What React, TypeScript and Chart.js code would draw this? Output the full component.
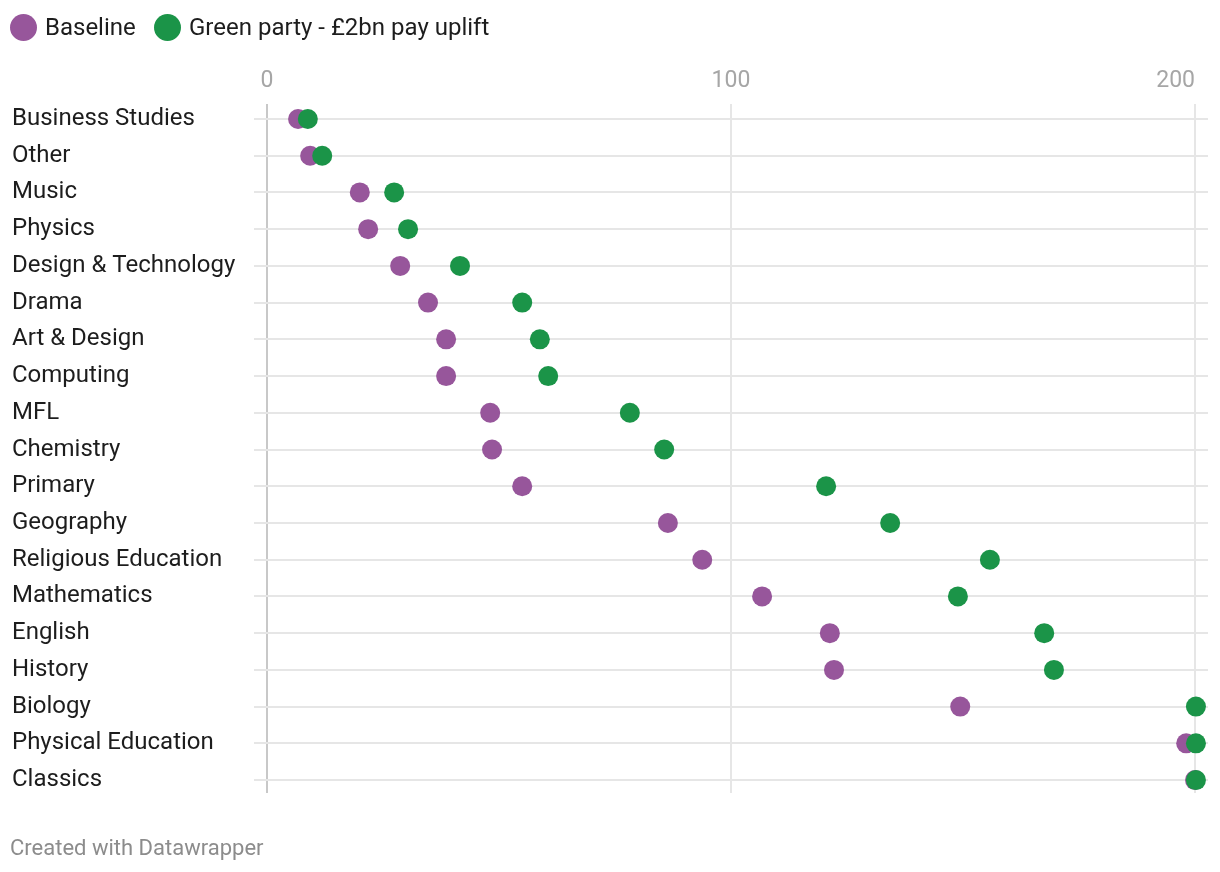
import React, { useEffect, useRef } from "react";
import { Chart, registerables } from "chart.js";

Chart.register(...registerables);

const categories: string[] = [
  "Business Studies",
  "Other",
  "Music",
  "Physics",
  "Design & Technology",
  "Drama",
  "Art & Design",
  "Computing",
  "MFL",
  "Chemistry",
  "Primary",
  "Geography",
  "Religious Education",
  "Mathematics",
  "English",
  "History",
  "Biology",
  "Physical Education",
  "Classics",
];

const baseline: number[] = [
  6.7, 9.3, 20.0, 21.8, 28.7, 34.7, 38.6, 38.6, 48.1, 48.5, 55.0, 86.4, 93.8,
  106.7, 121.3, 122.2, 149.4, 198.1, 200.0,
];

const greenParty: number[] = [
  8.8, 11.9, 27.4, 30.4, 41.6, 55.0, 58.8, 60.6, 78.2, 85.6, 120.5, 134.3,
  155.8, 148.9, 167.5, 169.6, 200.2, 200.2, 200.2,
];

const xTickValues: number[] = [0, 100, 200];

const seriesNames = ["Baseline", "Green party - £2bn pay uplift"];
const PURPLE = "#97569b";
const GREEN = "#1b9448";
const FONT = "Roboto, 'Noto Sans', sans-serif";

// Right-align the last x tick label (as Datawrapper does)
const lastTickAlign = {
  id: "lastTickAlign",
  beforeDraw(chart: any) {
    const s = chart.scales.x;
    if (!s) return;
    const items = s.getLabelItems(chart.chartArea);
    if (items && items.length) {
      const last = items[items.length - 1];
      last.options = { ...last.options, textAlign: "right" };
    }
  },
};

export default function App() {
  const canvasRef = useRef<HTMLCanvasElement | null>(null);

  useEffect(() => {
    const canvas = canvasRef.current;
    if (!canvas) return;
    const toPoints = (arr: number[]) => arr.map((v, i) => ({ x: v, y: i }));
    const chart = new Chart(canvas, {
      type: "scatter",
      data: {
        datasets: [
          {
            label: seriesNames[1],
            data: toPoints(greenParty),
            backgroundColor: GREEN,
            borderWidth: 0,
            pointRadius: 10,
            pointHoverRadius: 10,
            order: 0,
          },
          {
            label: seriesNames[0],
            data: toPoints(baseline),
            backgroundColor: PURPLE,
            borderWidth: 0,
            pointRadius: 10,
            pointHoverRadius: 10,
            order: 1,
          },
        ],
      },
      options: {
        animation: false,
        responsive: false,
        maintainAspectRatio: false,
        layout: { padding: { left: 12, right: 12, top: 0, bottom: 79 } },
        plugins: {
          legend: { display: false },
          tooltip: { enabled: false },
        },
        scales: {
          x: {
            type: "linear",
            position: "top",
            min: 0,
            max: 202.8,
            border: { display: false },
            afterFit: (scale: any) => {
              scale.height = 104;
              scale.paddingLeft = 0;
              scale.paddingRight = 0;
            },
            afterBuildTicks: (scale: any) => {
              scale.ticks = xTickValues.map((v) => ({ value: v }));
            },
            ticks: {
              color: "#a6a6a6",
              font: { family: FONT, size: 23 },
              padding: 9,
              maxRotation: 0,
            },
            grid: {
              drawTicks: false,
              lineWidth: 2,
              color: (ctx: any) =>
                ctx.tick && ctx.tick.value === 0 ? "#c8c8c8" : "#e6e6e6",
            },
          },
          y: {
            type: "linear",
            position: "left",
            reverse: true,
            min: -0.408,
            max: 18.352,
            border: { display: false },
            afterFit: (scale: any) => {
              scale.width = 255;
              scale.paddingTop = 0;
              scale.paddingBottom = 0;
            },
            afterBuildTicks: (scale: any) => {
              scale.ticks = categories.map((_, i) => ({ value: i }));
            },
            ticks: {
              autoSkip: false,
              crossAlign: "far",
              color: "#1d1d1d",
              font: { family: FONT, size: 24 },
              callback: (v: any) => categories[Math.round(Number(v))] ?? "",
            },
            grid: {
              drawTicks: true,
              tickLength: 13,
              lineWidth: 2,
              color: "#e6e6e6",
              tickColor: "#e6e6e6",
            },
          },
        },
      },
      plugins: [lastTickAlign],
    } as any);
    return () => chart.destroy();
  }, []);

  const legendItem = (color: string, text: string, left: number) => (
    <div
      style={{
        position: "absolute",
        left,
        top: 13,
        display: "flex",
        alignItems: "center",
        height: 28,
      }}
    >
      <span
        style={{
          display: "inline-block",
          width: 27,
          height: 27,
          borderRadius: "50%",
          background: color,
          marginRight: 8,
        }}
      />
      <span style={{ fontFamily: FONT, fontSize: 24, color: "#1d1d1d", lineHeight: "28px" }}>
        {text}
      </span>
    </div>
  );

  return (
    <div
      style={{
        position: "absolute",
        left: 0,
        top: 0,
        width: 1220,
        height: 872,
        background: "#fff",
      }}
    >
      <canvas
        ref={canvasRef}
        width={1220}
        height={872}
        style={{ position: "absolute", left: 0, top: 0, width: 1220, height: 872 }}
      />
      {legendItem(PURPLE, seriesNames[0], 10)}
      {legendItem(GREEN, seriesNames[1], 154)}
      <div
        style={{
          position: "absolute",
          left: 10,
          top: 835,
          fontFamily: FONT,
          fontSize: 22,
          color: "#8c8c8c",
          lineHeight: "26px",
        }}
      >
        Created with Datawrapper
      </div>
    </div>
  );
}
